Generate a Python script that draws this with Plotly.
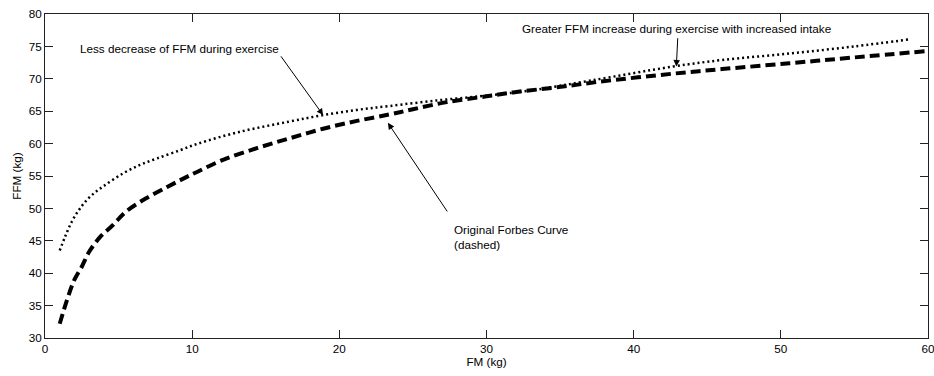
import plotly.graph_objects as go

# Original Forbes curve (dashed)
fm_forbes = [1, 1.5, 2, 2.5, 3, 3.75, 4.6, 5.5, 6.9, 8.3, 9.4, 10.4, 12.1, 14.4,
             16.6, 18.9, 21.2, 23.4, 25, 27.3, 30, 31.8, 35.2, 37.5, 42.7, 46,
             50.6, 55, 60]
ffm_forbes = [32.2, 35.9, 39.0, 41.0, 43.3, 45.6, 47.4, 49.5, 51.6, 53.3, 54.6,
              55.7, 57.5, 59.3, 60.8, 62.3, 63.5, 64.5, 65.3, 66.4, 67.3, 67.9,
              68.8, 69.5, 70.8, 71.5, 72.4, 73.3, 74.3]

# Exercise / increased intake curve (dotted)
fm_exercise = [1, 1.36, 1.81, 2.38, 3.06, 3.96, 5.3, 6.45, 7.6, 9.2, 10.4, 13.2,
               16.6, 18.9, 21.2, 23.4, 26.8, 30, 33, 37, 42.7, 46, 50.6, 55, 58.8]
ffm_exercise = [43.5, 45.6, 47.9, 50.0, 51.8, 53.4, 55.4, 56.7, 57.7, 59.0, 60.0,
                61.8, 63.4, 64.4, 65.2, 65.8, 66.7, 67.4, 68.2, 69.7, 71.9, 72.9,
                73.9, 75.0, 76.1]

x_ticks = [0, 10, 20, 30, 40, 50, 60]
y_ticks = [30, 35, 40, 45, 50, 55, 60, 65, 70, 75, 80]

FONT = "Liberation Sans, Arial, sans-serif"
FS = 11.7

fig = go.Figure()
fig.add_trace(go.Scatter(x=fm_exercise, y=ffm_exercise, mode="lines",
                         line=dict(color="black", width=2.5, dash="2px,3px", shape="spline"),
                         showlegend=False))
fig.add_trace(go.Scatter(x=fm_forbes, y=ffm_forbes, mode="lines",
                         line=dict(color="black", width=4, dash="10px,5px", shape="spline"),
                         showlegend=False))

annots = [
    dict(x=9.17, y=74.6, text="Less decrease of FFM during exercise",
         showarrow=False, xanchor="center", yanchor="middle"),
    dict(x=42.9, y=77.7, text="Greater FFM increase during exercise with increased intake",
         showarrow=False, xanchor="center", yanchor="middle"),
    dict(x=27.65, y=48.1, text="Original Forbes Curve<br>(dashed)",
         showarrow=False, xanchor="left", yanchor="top", align="left"),
    # arrows
    dict(x=18.9, y=64.4, ax=15.96, ay=73.7),
    dict(x=42.9, y=71.9, ax=43.0, ay=76.5),
    dict(x=23.3, y=63.2, ax=27.4, ay=49.3),
]
for a in annots:
    base = dict(xref="x", yref="y", font=dict(family=FONT, size=FS, color="black"))
    if "ax" in a:
        base.update(axref="x", ayref="y", text="", showarrow=True, arrowhead=2,
                    arrowsize=1.3, arrowwidth=1, arrowcolor="black", standoff=0)
    base.update(a)
    fig.add_annotation(**base)

axis_common = dict(showline=True, linecolor="#222", linewidth=1, mirror="ticks",
                   ticks="inside", ticklen=8, tickcolor="#222", tickwidth=1,
                   showgrid=False, zeroline=False, automargin=False,
                   ticklabeloverflow="allow",
                   tickfont=dict(family=FONT, size=FS, color="black"))

fig.update_layout(
    width=934, height=376, autosize=False,
    margin=dict(l=45, r=6, t=14, b=38),
    paper_bgcolor="white", plot_bgcolor="white",
    xaxis=dict(range=[0, 60], tickvals=x_ticks, ticktext=[str(v) for v in x_ticks],
               title=dict(text="FM (kg)", standoff=0,
                          font=dict(family=FONT, size=FS, color="black")),
               **axis_common),
    yaxis=dict(range=[30, 80], tickvals=y_ticks, ticktext=[str(v) for v in y_ticks],
               title=dict(text="FFM (kg)", standoff=4,
                          font=dict(family=FONT, size=FS, color="black")),
               **axis_common),
)

fig.write_html("out.html",
               config={"displayModeBar": False},
               post_script="document.body.style.margin='0px';"
                           "document.body.style.overflow='hidden';")
